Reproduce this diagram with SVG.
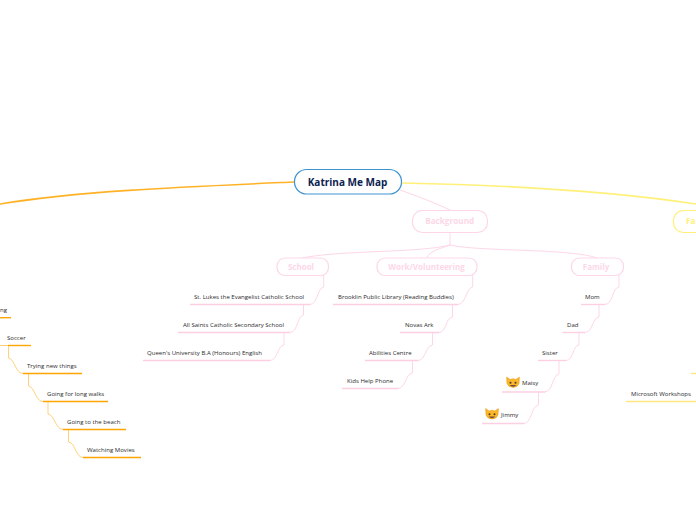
<svg xmlns="http://www.w3.org/2000/svg" width="696" height="520" viewBox="0 0 696 520">
<style>
text{font-family:"Open Sans","Noto Sans","Liberation Sans",sans-serif}
.leaf{font-size:6.05px;fill:#2b2b2b}
.c{fill:none;stroke-linecap:round}
.pk{stroke:#fdd7e8;stroke-width:1}
.or{stroke:#ffd27a;stroke-width:1}
.ye{stroke:#fff07a;stroke-width:1.6}
.ul{fill:none;stroke-width:1.4}
.ulp{stroke:#fdcfe3}
.ulo{stroke:#ffa500}
.uly{stroke:#ffe680}
.sub{fill:#fff;stroke:#fdd7e8;stroke-width:1.2}
.subt{font-weight:700;fill:#fdd7e8;text-anchor:middle}
</style>
<defs>
<g id="cat">
<path d="M-6.4,-6.4 L-6,0 A6.3,5.6 0 0 0 6,0 L6.4,-6.4 L2.8,-4 A6,6 0 0 0 -2.8,-4 Z" fill="#fbb829" stroke="#e8930c" stroke-width=".5"/>
<circle cx="-2.5" cy="-.8" r="1" fill="#4a3b2a"/><circle cx="2.5" cy="-.8" r="1" fill="#4a3b2a"/>
<path d="M-3.4,1.4 Q0,5 3.4,1.4 Z" fill="#6d4c41"/>
</g>
</defs>
<g id="connectors">
<path class="c" d="M294,182 C180,187 80,191 0,204" stroke="#ffa500" stroke-width="1.6" opacity=".85"/>
<path class="c ye" d="M402,183 C500,185 610,191 696,204"/>
<path class="c pk" d="M400,190 C420,197 435,203 450,210"/>
<path class="c pk" d="M450,232 V245 C420,253 340,250 302,258"/>
<path class="c pk" d="M450,245 C440,249 430,250 427,258"/>
<path class="c pk" d="M450,245 C480,252 570,248 597,258"/>
<path class="c pk" d="M323.7,275 V287 C317,288 318,304.5 310,304.5"/>
<path class="c pk" d="M303.5,304.5 V315 C297,316 298,332.5 290,332.5"/>
<path class="c pk" d="M284,332.5 V345 C277,346 278,360.5 270,360.5"/>
<path class="c pk" d="M472.7,275 V287 C466,288 466,304.5 458,304.5"/>
<path class="c pk" d="M452.5,304.5 V317 C445,318 447,332.5 439,332.5"/>
<path class="c pk" d="M432.5,332.5 V345 C425,346 426,360.5 418,360.5"/>
<path class="c pk" d="M412.5,360.5 V373 C405,374 406,388.5 398,388.5"/>
<path class="c pk" d="M619,275 V287 C612,288 613,304.5 605,304.5"/>
<path class="c pk" d="M599,304.5 V317 C592,318 593,332.5 585,332.5"/>
<path class="c pk" d="M579,332.5 V345 C572,346 574,360.5 566,360.5"/>
<path class="c pk" d="M559,360.5 V374 C552,375 553,392 545,392"/>
<path class="c pk" d="M538.5,392 V405 C531,406 532,423.5 524,423.5"/>
<path class="c or" d="M0,345.5 H8"/>
<path class="c or" d="M8.5,345.5 V358 C15,359 15,373.5 23,373.5"/>
<path class="c or" d="M28.5,373.5 V386 C35,387 35,401.5 43,401.5"/>
<path class="c or" d="M48,401.5 V414 C55,415 55,429.5 63,429.5"/>
<path class="c or" d="M68.5,429.5 V442 C76,443 75,457.5 83,457.5"/>
</g>
<g id="root"><rect x="294.5" y="169.5" width="107" height="24.5" rx="12" fill="#fff" stroke="#3f94d0" stroke-width="1.2"/><text x="347.5" y="186" text-anchor="middle" font-size="10" font-weight="700" fill="#0a2352">Katrina Me Map</text></g>
<g id="background"><rect class="sub" x="412.5" y="210.5" width="75" height="22" rx="10"/><text class="subt" x="449.7" y="224" font-size="8.2">Background</text></g>
<g id="fa"><rect x="673.5" y="210.5" width="60" height="22" rx="10" fill="#fff" stroke="#fff07a" stroke-width="1.2"/><text x="686" y="224" font-size="8.2" font-weight="700" fill="#fff07a">Fa</text></g>
<g id="school"><rect class="sub" x="277" y="258" width="51.5" height="17.5" rx="8"/><text class="subt" x="301" y="270" font-size="8">School</text></g>
<g id="work"><rect class="sub" x="377" y="258" width="100" height="17.5" rx="8"/><text class="subt" x="426.5" y="270" font-size="8">Work/Volunteering</text></g>
<g id="family"><rect class="sub" x="571.5" y="258" width="52" height="17.5" rx="8"/><text class="subt" x="596" y="270" font-size="8">Family</text></g>
<g id="n1"><path class="ul ulp" d="M190,304.5H310"/><text class="leaf" x="194" y="299">St. Lukes the Evangelist Catholic School</text></g>
<g id="n2"><path class="ul ulp" d="M178,332.5H290"/><text class="leaf" x="183" y="327">All Saints Catholic Secondary School</text></g>
<g id="n3"><path class="ul ulp" d="M143,360.5H270"/><text class="leaf" x="147" y="355">Queen's University B.A (Honours) English</text></g>
<g id="n4"><path class="ul ulp" d="M333,304.5H458"/><text class="leaf" x="338" y="299">Brooklin Public Library (Reading Buddies)</text></g>
<g id="n5"><path class="ul ulp" d="M400,332.5H439"/><text class="leaf" x="405" y="327">Novas Ark</text></g>
<g id="n6"><path class="ul ulp" d="M365,360.5H418"/><text class="leaf" x="369" y="355">Abilities Centre</text></g>
<g id="n7"><path class="ul ulp" d="M342,388.5H398"/><text class="leaf" x="347" y="383">Kids Help Phone</text></g>
<g id="n8"><path class="ul ulp" d="M581,304.5H605"/><text class="leaf" x="585" y="299">Mom</text></g>
<g id="n9"><path class="ul ulp" d="M562.5,332.5H585"/><text class="leaf" x="567" y="327">Dad</text></g>
<g id="n10"><path class="ul ulp" d="M538,360.5H566"/><text class="leaf" x="542" y="355">Sister</text></g>
<g id="n11"><path class="ul ulp" d="M502,392H545"/><use href="#cat" x="513" y="383.5"/><text class="leaf" x="522" y="385">Maisy</text></g>
<g id="n12"><path class="ul ulp" d="M482,423.5H524"/><use href="#cat" x="492" y="415"/><text class="leaf" x="501" y="417">Jimmy</text></g>
<g id="n13"><path class="ul uly" d="M626,401.5H696"/><text class="leaf" x="631" y="396">Microsoft Workshops</text></g>
<g id="n14"><path class="ul uly" d="M691,373.5H696"/></g>
<g id="n15"><path class="ul ulo" d="M0,317.7H11"/><text class="leaf" x="0" y="312">ng</text></g>
<g id="n16"><path class="ul ulo" d="M8,345.5H31"/><text class="leaf" x="7" y="340">Soccer</text></g>
<g id="n17"><path class="ul ulo" d="M23,373.5H82"/><text class="leaf" x="27" y="368">Trying new things</text></g>
<g id="n18"><path class="ul ulo" d="M43,401.5H108"/><text class="leaf" x="47" y="396">Going for long walks</text></g>
<g id="n19"><path class="ul ulo" d="M63,429.5H126"/><text class="leaf" x="67" y="424">Going to the beach</text></g>
<g id="n20"><path class="ul ulo" d="M83,457.5H141"/><text class="leaf" x="87" y="452">Watching Movies</text></g>
</svg>
